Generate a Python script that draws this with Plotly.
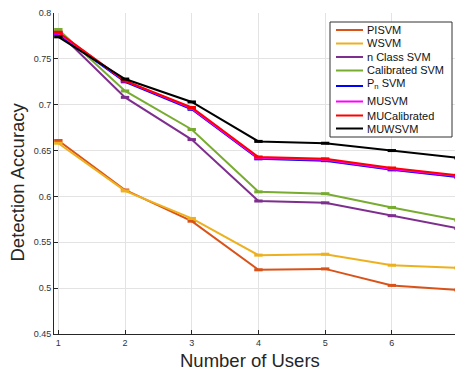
import plotly.graph_objects as go

users = [1, 2, 3, 4, 5, 6, 7]
pisvm = [0.661, 0.607, 0.573, 0.520, 0.521, 0.503, 0.498]
wsvm = [0.658, 0.606, 0.576, 0.536, 0.537, 0.525, 0.522]
nclass = [0.779, 0.708, 0.662, 0.595, 0.593, 0.579, 0.565]
calibrated = [0.782, 0.715, 0.673, 0.605, 0.603, 0.588, 0.574]
pn_svm = [0.777, 0.725, 0.695, 0.641, 0.639, 0.629, 0.621]
musvm = [0.778, 0.726, 0.696, 0.642, 0.640, 0.630, 0.622]
mucal = [0.779, 0.726, 0.697, 0.643, 0.641, 0.631, 0.623]
muwsvm = [0.774, 0.728, 0.703, 0.660, 0.658, 0.650, 0.642]

names = ["PISVM", "WSVM", "n Class SVM", "Calibrated SVM", "P<sub>n</sub> SVM",
         "MUSVM", "MUCalibrated", "MUWSVM"]
colors = ["#D95319", "#EDB120", "#7E2F8E", "#77AC30", "#0000FF",
          "#FF00FF", "#FF0000", "#000000"]
values = [pisvm, wsvm, nclass, calibrated, pn_svm, musvm, mucal, muwsvm]

y_ticks = [0.45, 0.5, 0.55, 0.6, 0.65, 0.7, 0.75, 0.8]
y_tick_text = ["0.45", "0.5", "0.55", "0.6", "0.65", "0.7", "0.75", "0.8"]
x_ticks = [1, 2, 3, 4, 5, 6]
x_title = "Number of Users"
y_title = "Detection Accuracy"

# plot-area geometry in pixels (for the hand-drawn compact legend and titles)
W, H = 455, 369
ML, MR, MT, MB = 54, 0, 13, 35
PW, PH = W - ML - MR, H - MT - MB


def px(x):
    return (x - ML) / PW


def py(y):
    return (H - MB - y) / PH


fig = go.Figure()
for name, vals, color in zip(names, values, colors):
    fig.add_trace(go.Scatter(
        x=users, y=vals, name=name, mode="lines+markers", showlegend=False,
        line=dict(color=color, width=2),
        marker=dict(symbol="line-ew", size=6, line=dict(color=color, width=3)),
    ))

# compact legend (MATLAB-like) drawn as layout shapes/annotations
leg_left, leg_right, leg_top, leg_bottom = 330, 452, 22, 137
item_y = [30, 43.5, 57, 70.5, 86, 101.5, 115.5, 128.5]
shapes = [dict(type="rect", xref="paper", yref="paper",
               x0=px(leg_left), x1=px(leg_right), y0=py(leg_bottom), y1=py(leg_top),
               line=dict(color="#333333", width=1), fillcolor="white", layer="above")]
annotations = []
for name, color, yy in zip(names, colors, item_y):
    shapes.append(dict(type="line", xref="paper", yref="paper",
                       x0=px(336), x1=px(363), y0=py(yy), y1=py(yy),
                       line=dict(color=color, width=2), layer="above"))
    ty = yy - 2 if "sub" in name else yy
    annotations.append(dict(text=name, xref="paper", yref="paper",
                            x=px(365), y=py(ty), xanchor="left", yanchor="middle",
                            showarrow=False, font=dict(size=11, color="#111111")))

annotations.append(dict(text=x_title, xref="paper", yref="paper",
                        x=px(249.5), y=py(360.5), xanchor="center", yanchor="middle",
                        showarrow=False, borderpad=0,
                        font=dict(size=18.5, color="#262626")))
annotations.append(dict(text=y_title, xref="paper", yref="paper", textangle=-90,
                        x=px(17.5), y=py(182), xanchor="center", yanchor="middle",
                        showarrow=False, borderpad=0,
                        font=dict(size=18.5, color="#262626")))

font = "Liberation Sans, Arial, Helvetica, sans-serif"
fig.update_layout(
    width=W, height=H,
    margin=dict(l=ML, r=MR, t=MT, b=MB, autoexpand=False),
    paper_bgcolor="white", plot_bgcolor="white",
    font=dict(family=font, color="#262626"),
    showlegend=False,
    shapes=shapes, annotations=annotations,
    xaxis=dict(
        range=[0.935, 6.947], tickvals=x_ticks,
        showgrid=True, gridcolor="#e3e3e3", gridwidth=1,
        showline=True, linecolor="#262626", linewidth=1,
        ticks="inside", ticklen=4, tickcolor="#262626",
        tickfont=dict(size=9, color="#333333"),
        zeroline=False,
    ),
    yaxis=dict(
        range=[0.45, 0.8], tickvals=y_ticks, ticktext=y_tick_text,
        showgrid=True, gridcolor="#e3e3e3", gridwidth=1,
        showline=True, linecolor="#262626", linewidth=1,
        ticks="inside", ticklen=4, tickcolor="#262626",
        tickfont=dict(size=9, color="#333333"),
        zeroline=False,
    ),
)

fig.write_html("out.html", config={"displayModeBar": False},
               post_script="document.body.style.margin='0';document.body.style.padding='0';")
